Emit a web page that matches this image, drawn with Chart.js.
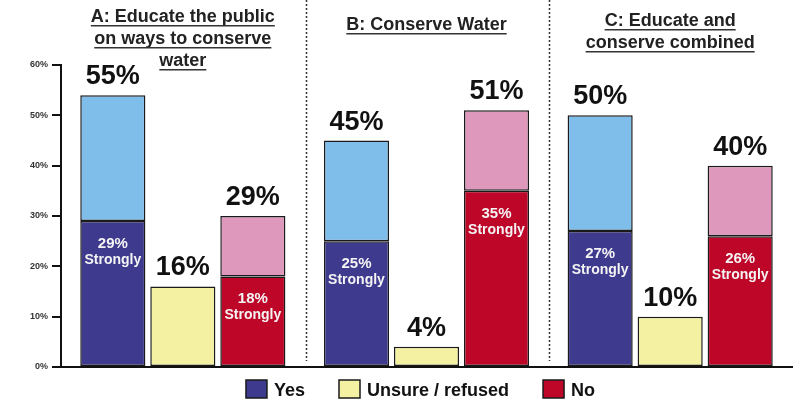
<!DOCTYPE html>
<html lang="en">
<head>
  <meta charset="UTF-8">
  <title>Water conservation support</title>
  <script src="https://cdn.jsdelivr.net/npm/chart.js"></script>
  <style>
    body {
      margin: 0;
      background: #fff;
    }
    #box {
      width: 793px;
      height: 401px;
      position: relative;
    }
  </style>
</head>
<body>
  <div id="box">
    <canvas id="chart"></canvas>
  </div>

  <script>
    // data (bar heights in %, plus the printed labels)
    const groups = ["A", "B", "C"];
    const titles = [
      ["A: Educate the public", "on ways to conserve", "water"],
      ["B: Conserve Water"],
      ["C: Educate and", "conserve combined"]
    ];
    const yesStrong = [29, 25, 27];
    const yesTotal = [54, 45, 50];
    const unsure = [16, 4, 10];
    const noStrong = [18, 35, 26];
    const noTotal = [30, 51, 40];

    const yesLabels = ["55%", "45%", "50%"];
    const unsureLabels = ["16%", "4%", "10%"];
    const noLabels = ["29%", "51%", "40%"];
    const yesStrongLabels = ["29%", "25%", "27%"];
    const noStrongLabels = ["18%", "35%", "26%"];

    const legendNames = ["Yes", "Unsure / refused", "No"];

    const colors = {
      yesStrong: "#3E3A8E",
      yesRest: "#7FBDEA",
      unsure: "#F4F1A3",
      noStrong: "#BE0628",
      noRest: "#DD98BB"
    };
    const font = "'Liberation Sans', Arial, sans-serif";

    const yesRest = yesTotal.map((t, i) => t - yesStrong[i]);
    const noRest = noTotal.map((t, i) => t - noStrong[i]);

    function bar(label, data, color, stack) {
      return {
        label: label,
        data: data,
        stack: stack,
        backgroundColor: color,
        borderColor: "#1a1a1a",
        borderWidth: 1.5,
        borderSkipped: false,
        categoryPercentage: 0.862,
        barPercentage: 0.93
      };
    }

    function text(ctx, str, x, y, size, color, align) {
      ctx.font = "bold " + size + "px " + font;
      ctx.fillStyle = color;
      ctx.textAlign = align || "center";
      ctx.textBaseline = "alphabetic";
      ctx.fillText(str, x, y);
    }

    const extras = {
      id: "extras",
      afterDatasetsDraw(chart) {
        const ctx = chart.ctx;
        ctx.save();
        groups.forEach((g, i) => {
          const top = [[1, yesLabels], [2, unsureLabels], [4, noLabels]];
          top.forEach(([d, labels]) => {
            const el = chart.getDatasetMeta(d).data[i];
            text(ctx, labels[i], el.x, el.y - 11, 27, "#111");
          });
          const inner = [[0, yesStrongLabels], [3, noStrongLabels]];
          inner.forEach(([d, labels]) => {
            const el = chart.getDatasetMeta(d).data[i];
            text(ctx, labels[i], el.x, el.y + 27, 15, "#f4f4f4");
            text(ctx, "Strongly", el.x, el.y + 43, 14, "#f4f4f4");
          });
        });
        ctx.restore();
      },
      afterDraw(chart) {
        const ctx = chart.ctx;
        const x = chart.scales.x;
        const area = chart.chartArea;
        ctx.save();

        // dotted separators between the panels
        ctx.setLineDash([2, 2]);
        ctx.lineWidth = 1.5;
        ctx.strokeStyle = "#333";
        for (let i = 1; i < groups.length; i++) {
          const px = Math.round((x.getPixelForValue(i - 1) + x.getPixelForValue(i)) / 2) + 1.5;
          ctx.beginPath();
          ctx.moveTo(px, 0);
          ctx.lineTo(px, area.bottom - 6);
          ctx.stroke();
        }
        ctx.setLineDash([]);

        // underlined panel titles
        const firstLine = [22, 30, 26];
        titles.forEach((lines, i) => {
          const cx = x.getPixelForValue(i);
          lines.forEach((line, k) => {
            const y = firstLine[i] + k * 22;
            text(ctx, line, cx, y, 18, "#222");
            const w = ctx.measureText(line).width;
            ctx.fillStyle = "#333";
            ctx.fillRect(cx - w / 2, y + 3, w, 1.5);
          });
        });

        // legend
        const legendColors = [colors.yesStrong, colors.unsure, colors.noStrong];
        ctx.font = "bold 18px " + font;
        const widths = legendNames.map(n => 28 + ctx.measureText(n).width);
        const total = widths.reduce((a, b) => a + b, 0) + 34 * (widths.length - 1);
        let lx = (area.left + area.right) / 2 - 6 - total / 2;
        legendNames.forEach((n, k) => {
          ctx.fillStyle = legendColors[k];
          ctx.fillRect(lx, 380, 21, 18);
          ctx.lineWidth = 1.5;
          ctx.strokeStyle = "#1a1a1a";
          ctx.strokeRect(lx, 380, 21, 18);
          text(ctx, n, lx + 28, 396, 18, "#111", "left");
          lx += widths[k] + 34;
        });
        ctx.restore();
      }
    };

    new Chart(document.getElementById("chart"), {
      type: "bar",
      data: {
        labels: groups,
        datasets: [
          bar("Yes strongly", yesStrong, colors.yesStrong, "yes"),
          bar("Yes", yesRest, colors.yesRest, "yes"),
          bar("Unsure / refused", unsure, colors.unsure, "unsure"),
          bar("No strongly", noStrong, colors.noStrong, "no"),
          bar("No", noRest, colors.noRest, "no")
        ]
      },
      options: {
        responsive: true,
        maintainAspectRatio: false,
        animation: false,
        layout: {
          padding: { top: 65, bottom: 26, left: 0, right: 1 }
        },
        plugins: {
          legend: { display: false },
          tooltip: { enabled: false }
        },
        scales: {
          x: {
            stacked: true,
            grid: { display: false },
            ticks: { display: false },
            border: { display: true, color: "#111", width: 2 }
          },
          y: {
            stacked: true,
            min: 0,
            max: 60,
            ticks: {
              stepSize: 10,
              padding: 4,
              color: "#333",
              font: { family: font, size: 9, weight: "bold" },
              callback: v => v + "%"
            },
            grid: {
              drawOnChartArea: false,
              tickLength: 9,
              color: "#111",
              lineWidth: 2
            },
            border: { color: "#111", width: 2 },
            afterFit: s => { s.width = 61; }
          }
        }
      },
      plugins: [extras]
    });
  </script>
</body>
</html>
